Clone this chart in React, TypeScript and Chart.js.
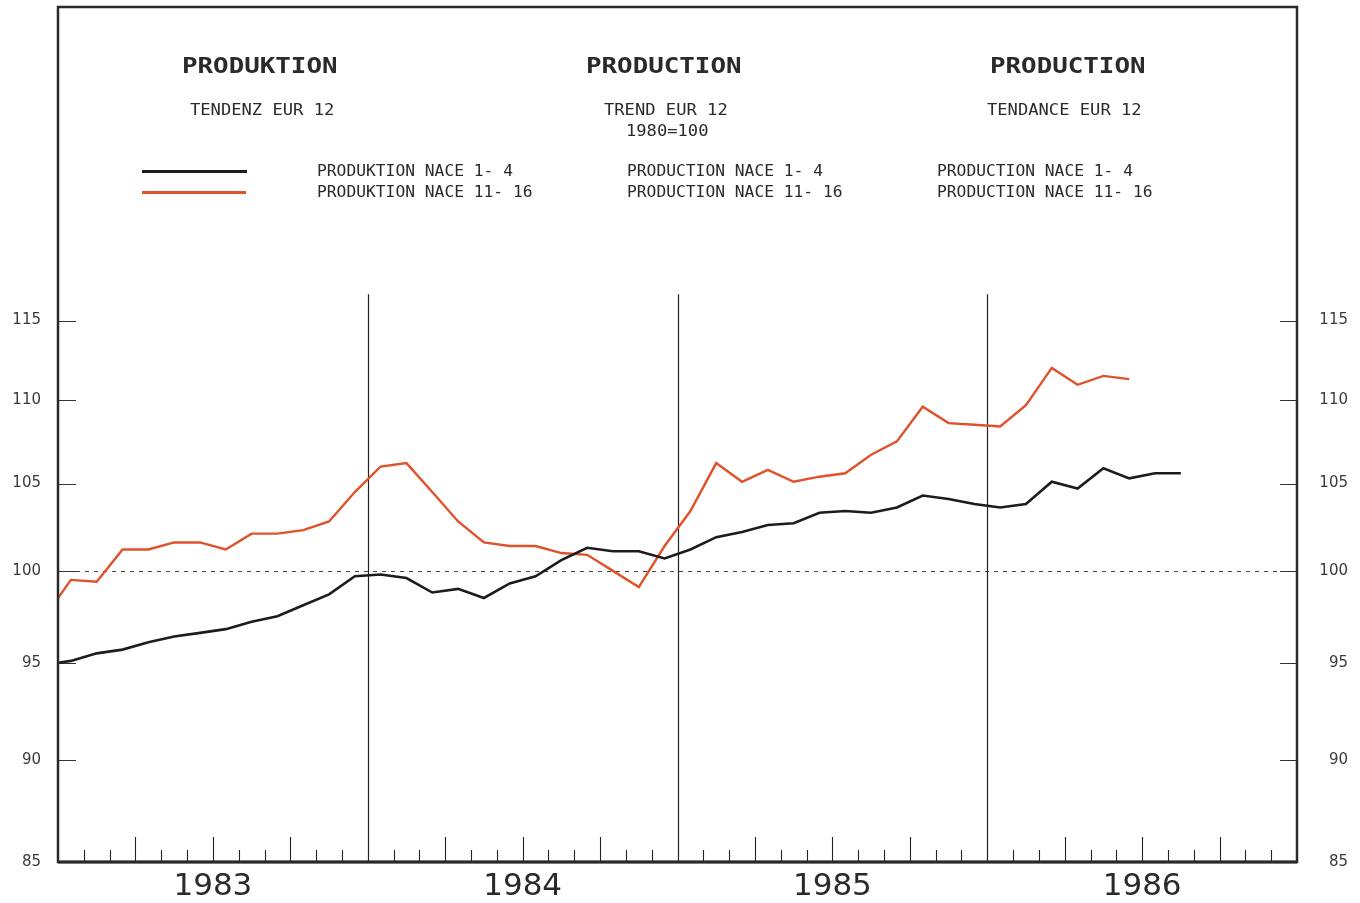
import React, { useEffect, useRef } from "react";
import { Chart, registerables } from "chart.js";

Chart.register(...registerables);

// ---------- data ----------
const monthLabels = [
  "1983-01", "1983-02", "1983-03", "1983-04", "1983-05", "1983-06", "1983-07", "1983-08", "1983-09", "1983-10", "1983-11", "1983-12",
  "1984-01", "1984-02", "1984-03", "1984-04", "1984-05", "1984-06", "1984-07", "1984-08", "1984-09", "1984-10", "1984-11", "1984-12",
  "1985-01", "1985-02", "1985-03", "1985-04", "1985-05", "1985-06", "1985-07", "1985-08", "1985-09", "1985-10", "1985-11", "1985-12",
  "1986-01", "1986-02", "1986-03", "1986-04", "1986-05", "1986-06", "1986-07", "1986-08",
];
const yearLabels = ["1983", "1984", "1985", "1986"];
const yTickValues = [85, 90, 95, 100, 105, 110, 115];
const referenceLevel = 100;
const yMin = 85;
const yMax = 137;
const yearLineTopValue = 116.7;
const totalMonths = 48;

// value at the start of the axis (1 Jan 1983), then monthly values
const nace14Start = 95.0;
const nace14 = [
  95.1, 95.5, 95.7, 96.1, 96.4, 96.6, 96.8, 97.2, 97.5, 98.1, 98.7, 99.7,
  99.8, 99.6, 98.8, 99.0, 98.5, 99.3, 99.7, 100.6, 101.3, 101.1, 101.1, 100.7,
  101.2, 101.9, 102.2, 102.6, 102.7, 103.3, 103.4, 103.3, 103.6, 104.3, 104.1, 103.8,
  103.6, 103.8, 105.1, 104.7, 105.9, 105.3, 105.6, 105.6,
];
const nace1116Start = 98.5;
const nace1116 = [
  99.5, 99.4, 101.2, 101.2, 101.6, 101.6, 101.2, 102.1, 102.1, 102.3, 102.8, 104.5,
  106.0, 106.2, 104.5, 102.8, 101.6, 101.4, 101.4, 101.0, 100.9, 100.0, 99.1, 101.4,
  103.4, 106.2, 105.1, 105.8, 105.1, 105.4, 105.6, 106.7, 107.5, 109.6, 108.6, 108.5,
  108.4, 109.7, 112.0, 110.95, 111.5, 111.3,
];

const titles = ["PRODUKTION", "PRODUCTION", "PRODUCTION"];
const subtitles = ["TENDENZ EUR 12", "TREND EUR 12", "TENDANCE EUR 12"];
const baseNote = "1980=100";
const legendTexts = [
  ["PRODUKTION NACE 1- 4", "PRODUKTION NACE 11- 16"],
  ["PRODUCTION NACE 1- 4", "PRODUCTION NACE 11- 16"],
  ["PRODUCTION NACE 1- 4", "PRODUCTION NACE 11- 16"],
];

// ---------- styles ----------
const BLACK = "#1c1c1c";
const RED = "#e0522c";

const toPoints = (start: number, vals: number[]) => [
  { x: 0, y: start },
  ...vals.map((v, i) => ({ x: i + 0.5, y: v, label: monthLabels[i] })),
];

const decorPlugin = {
  id: "decor",
  beforeDatasetsDraw(chart: any) {
    const { ctx, chartArea: a, scales } = chart;
    const x = scales.x;
    const y = scales.y;
    ctx.save();
    // reference dashed line at 100
    const yRef = Math.round(y.getPixelForValue(referenceLevel)) + 0.5;
    ctx.strokeStyle = "#444";
    ctx.lineWidth = 1;
    ctx.setLineDash([4, 5]);
    ctx.beginPath();
    ctx.moveTo(a.left, yRef);
    ctx.lineTo(a.right, yRef);
    ctx.stroke();
    ctx.setLineDash([]);
    // year separator lines
    const topY = y.getPixelForValue(yearLineTopValue);
    ctx.strokeStyle = "#222";
    ctx.lineWidth = 1.2;
    for (let m = 12; m < totalMonths; m += 12) {
      const px = Math.round(x.getPixelForValue(m)) + 0.5;
      ctx.beginPath();
      ctx.moveTo(px, topY);
      ctx.lineTo(px, a.bottom);
      ctx.stroke();
    }
    // month / quarter ticks
    ctx.lineWidth = 1.1;
    for (let m = 1; m < totalMonths; m++) {
      if (m % 12 === 0) continue;
      const len = m % 3 === 0 ? 25 : 12;
      const px = Math.round(x.getPixelForValue(m)) + 0.5;
      ctx.beginPath();
      ctx.moveTo(px, a.bottom);
      ctx.lineTo(px, a.bottom - len);
      ctx.stroke();
    }
    // y ticks inside the frame
    ctx.strokeStyle = "#333";
    ctx.lineWidth = 1.2;
    for (const v of yTickValues) {
      if (v === yMin) continue;
      const py = Math.round(y.getPixelForValue(v)) + 0.5;
      ctx.beginPath();
      ctx.moveTo(a.left, py);
      ctx.lineTo(a.left + 18, py);
      ctx.moveTo(a.right - 17, py);
      ctx.lineTo(a.right, py);
      ctx.stroke();
    }
    ctx.restore();
  },
  afterDatasetsDraw(chart: any) {
    const { ctx, chartArea: a } = chart;
    ctx.save();
    ctx.strokeStyle = "#2a2a2a";
    ctx.lineWidth = 2.5;
    ctx.strokeRect(a.left, a.top, a.right - a.left, a.bottom - a.top);
    ctx.lineWidth = 3;
    ctx.beginPath();
    ctx.moveTo(a.left, a.bottom);
    ctx.lineTo(a.right, a.bottom);
    ctx.stroke();
    ctx.restore();
  },
};

const mono = '"DejaVu Sans Mono", "Liberation Mono", monospace';

function Txt(props: { text: string; left: number; cy: number; size: number; sx: number; bold?: boolean; color?: string }) {
  const { text, left, cy, size, sx, bold, color } = props;
  return (
    <span
      style={{
        position: "absolute",
        left,
        top: cy - 0.48 * size,
        fontFamily: mono,
        fontSize: size,
        lineHeight: 1,
        whiteSpace: "pre",
        fontWeight: bold ? 700 : 400,
        color: color || "#2a2a2a",
        transform: `scaleX(${sx})`,
        transformOrigin: "left center",
      }}
    >
      {text}
    </span>
  );
}

const colTitleX = [182, 586, 990];
const colSubX = [190, 604, 987];
const colLegendX = [317, 627, 937];

export default function App() {
  const canvasRef = useRef<HTMLCanvasElement | null>(null);

  useEffect(() => {
    const canvas = canvasRef.current;
    if (!canvas) return;
    const chart = new Chart(canvas, {
      type: "line",
      data: {
        datasets: [
          {
            label: legendTexts[0][0],
            data: toPoints(nace14Start, nace14) as any,
            borderColor: BLACK,
            borderWidth: 2.6,
            pointRadius: 0,
            tension: 0,
            yAxisID: "y",
          },
          {
            label: legendTexts[0][1],
            data: toPoints(nace1116Start, nace1116) as any,
            borderColor: RED,
            borderWidth: 2.4,
            pointRadius: 0,
            tension: 0,
            yAxisID: "y",
          },
        ],
      },
      plugins: [decorPlugin],
      options: {
        animation: false,
        responsive: false,
        layout: { padding: { top: 7, right: 12, left: 0, bottom: 0 } },
        plugins: { legend: { display: false }, tooltip: { enabled: false } },
        scales: {
          x: {
            type: "linear",
            min: 0,
            max: totalMonths,
            position: "bottom",
            grid: { display: false, drawTicks: false },
            border: { display: false },
            afterBuildTicks: (s: any) => {
              s.ticks = yearLabels.map((_, i) => ({ value: i * 12 + 6 }));
            },
            afterFit: (s: any) => {
              s.height = 41;
              s.paddingLeft = 0;
              s.paddingRight = 0;
            },
            ticks: {
              autoSkip: false,
              maxRotation: 0,
              padding: 6,
              color: "#2a2a2a",
              font: { family: '"DejaVu Sans", sans-serif', size: 31 },
              callback: (v: any) => yearLabels[Math.round((Number(v) - 6) / 12)],
            },
          },
          y: {
            type: "logarithmic",
            min: yMin,
            max: yMax,
            position: "left",
            grid: { display: false, drawTicks: false },
            border: { display: false },
            afterBuildTicks: (s: any) => {
              s.ticks = yTickValues.map((v) => ({ value: v }));
            },
            afterFit: (s: any) => {
              s.width = 58;
              s.paddingTop = 0;
              s.paddingBottom = 0;
            },
            ticks: {
              autoSkip: false,
              padding: 17,
              color: "#3a3a3a",
              font: { family: '"DejaVu Sans", sans-serif', size: 15 },
              callback: (v: any) => String(v),
            },
          },
          y2: {
            type: "logarithmic",
            min: yMin,
            max: yMax,
            position: "right",
            grid: { display: false, drawTicks: false },
            border: { display: false },
            afterBuildTicks: (s: any) => {
              s.ticks = yTickValues.map((v) => ({ value: v }));
            },
            afterFit: (s: any) => {
              s.width = 51;
              s.paddingTop = 0;
              s.paddingBottom = 0;
            },
            ticks: {
              autoSkip: false,
              padding: 17,
              crossAlign: "far",
              color: "#3a3a3a",
              font: { family: '"DejaVu Sans", sans-serif', size: 15 },
              callback: (v: any) => String(v),
            },
          },
        } as any,
      },
    });
    return () => chart.destroy();
  }, []);

  return (
    <div style={{ position: "fixed", left: 0, top: 0, width: 1360, height: 903, background: "#fff", overflow: "hidden" }}>
      <canvas ref={canvasRef} width={1360} height={903} style={{ position: "absolute", left: 0, top: 0 }} />
      {titles.map((t, i) => (
        <Txt key={"t" + i} text={t} left={colTitleX[i]} cy={66} size={20.5} sx={1.26} bold />
      ))}
      {subtitles.map((t, i) => (
        <Txt key={"s" + i} text={t} left={colSubX[i]} cy={109.5} size={16} sx={1.07} />
      ))}
      <Txt text={baseNote} left={626} cy={130.5} size={16} sx={1.07} />
      {legendTexts.map((pair, i) =>
        pair.map((t, j) => (
          <Txt key={"l" + i + j} text={t} left={colLegendX[i]} cy={171.5 + j * 20.5} size={15.5} sx={1.05} />
        ))
      )}
      <div style={{ position: "absolute", left: 142, top: 169.5, width: 105, height: 3, background: BLACK }} />
      <div style={{ position: "absolute", left: 142, top: 190.5, width: 104, height: 3, background: RED }} />
    </div>
  );
}
